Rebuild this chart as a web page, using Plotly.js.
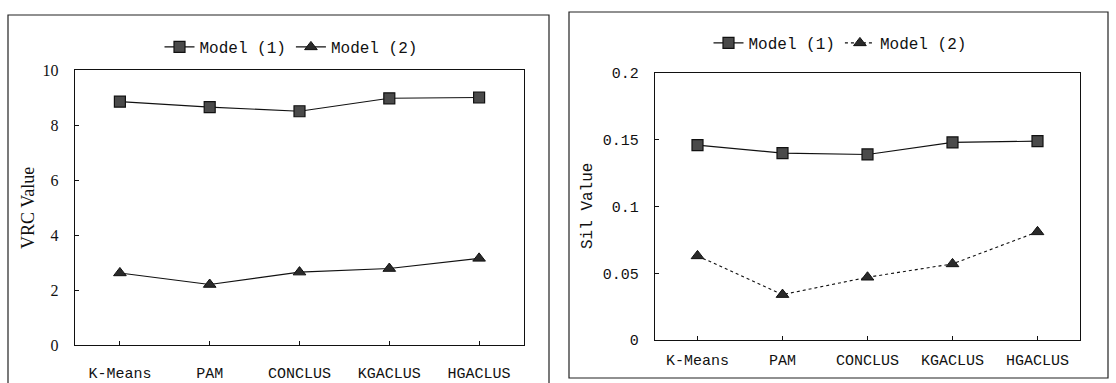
<!DOCTYPE html>
<html>
<head>
<meta charset="utf-8">
<script src="https://cdn.plot.ly/plotly-3.0.1.min.js"></script>
<style>html,body{margin:0;padding:0;background:#fff;}#chart{width:1116px;height:383px;}</style>
</head>
<body>
<div id="chart"></div>
<script>
var categories = ["K-Means", "PAM", "CONCLUS", "KGACLUS", "HGACLUS"];
var seriesNames = ["Model (1)", "Model (2)"];
var vrcModel1 = [8.85, 8.65, 8.5, 8.97, 9.0];
var vrcModel2 = [2.62, 2.2, 2.65, 2.78, 3.15];
var silModel1 = [0.146, 0.140, 0.139, 0.148, 0.149];
var silModel2 = [0.063, 0.034, 0.047, 0.057, 0.081];
var vrcTicks = [0, 2, 4, 6, 8, 10];
var silTicks = [0, 0.05, 0.1, 0.15, 0.2];
var silTickText = ["0", "0.05", "0.1", "0.15", "0.2"];

var W = 1116, H = 383;
function px(x) { return x / W; }
function py(y) { return 1 - y / H; }

var mono = "Liberation Mono, monospace";
var serif = "Liberation Serif, serif";

var sqMarker = {symbol: "square", size: 11, color: "#4a4a4a", line: {color: "#111", width: 1.2}};
var triMarker = {symbol: "triangle-up", size: 11, color: "#2a2a2a", line: {color: "#111", width: 1}};
var lineStyle = {color: "#111", width: 1.1};

var traces = [
  {x: categories, y: vrcModel1, name: seriesNames[0], type: "scatter", mode: "lines+markers",
   marker: sqMarker, line: lineStyle, xaxis: "x", yaxis: "y", legend: "legend"},
  {x: categories, y: vrcModel2, name: seriesNames[1], type: "scatter", mode: "lines+markers",
   marker: triMarker, line: lineStyle, xaxis: "x", yaxis: "y", legend: "legend"},
  {x: categories, y: silModel1, name: seriesNames[0], type: "scatter", mode: "lines+markers",
   marker: sqMarker, line: lineStyle, xaxis: "x2", yaxis: "y2", legend: "legend2"},
  {x: categories, y: silModel2, name: seriesNames[1], type: "scatter", mode: "lines+markers",
   marker: triMarker, line: {color: "#111", width: 1.1, dash: "dot"}, xaxis: "x2", yaxis: "y2", legend: "legend2"}
];

function xAxis(domain, anchor, standoff) {
  return {
    domain: domain, anchor: anchor, type: "category", range: [-0.5, 4.5],
    showline: true, linecolor: "#111", linewidth: 1.3, mirror: true,
    ticks: "inside", ticklen: 4, tickcolor: "#111", tickwidth: 1,
    showgrid: false, zeroline: false, fixedrange: true,
    tickfont: {family: mono, size: 15, color: "#111"}, ticklabelstandoff: standoff
  };
}
function yAxis(domain, anchor, ticks, text, font) {
  return {
    domain: domain, anchor: anchor, range: [ticks[0], ticks[ticks.length - 1]],
    tickvals: ticks, ticktext: text,
    showline: true, linecolor: "#111", linewidth: 1.3, mirror: true,
    ticks: "inside", ticklen: 4, tickcolor: "#111", tickwidth: 1,
    showgrid: false, zeroline: false, fixedrange: true,
    tickfont: font, ticklabelstandoff: 12
  };
}

var layout = {
  width: W, height: H,
  margin: {l: 0, r: 0, t: 0, b: 0},
  paper_bgcolor: "#fff", plot_bgcolor: "#fff",
  showlegend: true,
  xaxis: xAxis([px(75), px(524)], "y", 14),
  yaxis: yAxis([py(345), py(70)], "x", vrcTicks, vrcTicks.map(String), {family: serif, size: 16, color: "#111"}),
  xaxis2: xAxis([px(655), px(1080)], "y2", 6),
  yaxis2: yAxis([py(340), py(73)], "x2", silTicks, silTickText, {family: mono, size: 15, color: "#111"}),
  legend: {orientation: "h", x: px(291), y: py(47), xanchor: "center", yanchor: "middle",
           font: {family: mono, size: 16, color: "#111"}, itemwidth: 30, tracegroupgap: 0,
           bgcolor: "rgba(0,0,0,0)"},
  legend2: {orientation: "h", x: px(840), y: py(43), xanchor: "center", yanchor: "middle",
           font: {family: mono, size: 16, color: "#111"}, itemwidth: 30, tracegroupgap: 0,
           bgcolor: "rgba(0,0,0,0)"},
  annotations: [
    {text: "VRC Value", xref: "paper", yref: "paper", x: px(28), y: py(208), textangle: -90,
     showarrow: false, xanchor: "center", yanchor: "middle", font: {family: serif, size: 18, color: "#111"}},
    {text: "Sil Value", xref: "paper", yref: "paper", x: px(588), y: py(206), textangle: -90,
     showarrow: false, xanchor: "center", yanchor: "middle", font: {family: mono, size: 16, color: "#111"}}
  ],
  shapes: [
    {type: "rect", xref: "paper", yref: "paper", x0: px(8), x1: px(549), y0: py(390), y1: py(15),
     line: {color: "#222", width: 1.2}, fillcolor: "rgba(0,0,0,0)"},
    {type: "rect", xref: "paper", yref: "paper", x0: px(569), x1: px(1108), y0: py(378), y1: py(12),
     line: {color: "#222", width: 1.2}, fillcolor: "rgba(0,0,0,0)"}
  ]
};

Plotly.newPlot("chart", traces, layout, {displayModeBar: false, staticPlot: true});
</script>
</body>
</html>
